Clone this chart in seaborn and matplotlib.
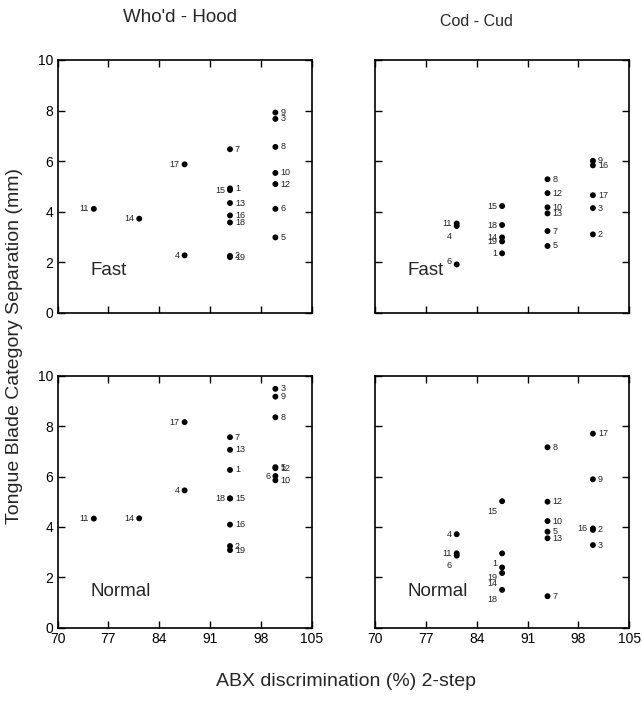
import pandas as pd
import matplotlib.pyplot as plt
import seaborn as sns

# x = 2-step ABX score (%), y = separation (mm), one point per speaker
hood_fast_ids = [11, 14, 17, 4, 7, 15, 1, 13, 16, 18, 2, 19, 9, 3, 8, 10, 12, 6, 5]
hood_fast_x = [75, 81.25, 87.5, 87.5, 93.75, 93.75, 93.75, 93.75, 93.75, 93.75, 93.75, 93.75,
               100, 100, 100, 100, 100, 100, 100]
hood_fast_y = [4.11, 3.72, 5.87, 2.27, 6.47, 4.85, 4.92, 4.34, 3.85, 3.57, 2.25, 2.20,
               7.92, 7.67, 6.56, 5.53, 5.09, 4.11, 2.98]

cud_fast_ids = [11, 4, 6, 15, 18, 14, 19, 1, 8, 12, 10, 13, 7, 5, 9, 16, 17, 3, 2]
cud_fast_x = [81.25, 81.25, 81.25, 87.5, 87.5, 87.5, 87.5, 87.5, 93.75, 93.75, 93.75, 93.75,
              93.75, 93.75, 100, 100, 100, 100, 100]
cud_fast_y = [3.53, 3.43, 1.91, 4.22, 3.47, 2.98, 2.82, 2.35, 5.28, 4.73, 4.17, 3.93,
              3.23, 2.64, 6.01, 5.83, 4.65, 4.14, 3.10]

hood_norm_ids = [11, 14, 17, 4, 7, 13, 1, 18, 15, 16, 2, 19, 3, 9, 8, 5, 12, 6, 10]
hood_norm_x = [75, 81.25, 87.5, 87.5, 93.75, 93.75, 93.75, 93.75, 93.75, 93.75, 93.75, 93.75,
               100, 100, 100, 100, 100, 100, 100]
hood_norm_y = [4.33, 4.34, 8.16, 5.45, 7.56, 7.06, 6.26, 5.13, 5.13, 4.09, 3.24, 3.08,
               9.48, 9.17, 8.35, 6.37, 6.33, 6.02, 5.85]

cud_norm_ids = [4, 11, 6, 15, 1, 19, 14, 18, 8, 12, 10, 5, 13, 7, 17, 9, 16, 2, 3]
cud_norm_x = [81.25, 81.25, 81.25, 87.5, 87.5, 87.5, 87.5, 87.5, 93.75, 93.75, 93.75, 93.75,
              93.75, 93.75, 100, 100, 100, 100, 100]
cud_norm_y = [3.71, 2.95, 2.86, 5.02, 2.95, 2.39, 2.17, 1.50, 7.16, 5.00, 4.23, 3.81,
              3.55, 1.25, 7.70, 5.89, 3.94, 3.88, 3.28]

x_ticks = [70, 77, 84, 91, 98, 105]
y_ticks = [0, 2, 4, 6, 8, 10]

sns.set_style("ticks")
plt.rcParams['font.family'] = ['Liberation Sans', 'DejaVu Sans']

panels = [
    # ids, x, y, condition, axes rect, labels on left, labels left+below, special offsets
    (hood_fast_ids, hood_fast_x, hood_fast_y, 'Fast', [0.0896, 0.5558, 0.3959, 0.3590],
     [11, 14, 17, 4, 15], [], {}),
    (cud_fast_ids, cud_fast_x, cud_fast_y, 'Fast', [0.5841, 0.5558, 0.3960, 0.3590],
     [11, 15, 18, 14, 19, 1], [4], {6: (-5, 3)}),
    (hood_norm_ids, hood_norm_x, hood_norm_y, 'Normal', [0.0896, 0.1084, 0.3959, 0.3579],
     [11, 14, 17, 4, 18, 6], [], {}),
    (cud_norm_ids, cud_norm_x, cud_norm_y, 'Normal', [0.5841, 0.1084, 0.3960, 0.3579],
     [4, 11, 16], [6, 15, 1, 19, 14, 18], {}),
]

fig = plt.figure(figsize=(6.42, 7.04), dpi=100)

for i, (ids, xs, ys, cond, rect, left, below, special) in enumerate(panels):
    ax = fig.add_axes(rect)
    df = pd.DataFrame({'id': ids, 'abx': xs, 'sep': ys})
    sns.scatterplot(data=df, x='abx', y='sep', ax=ax, color='black', s=18,
                    edgecolor='none', legend=False)
    for _, r in df.iterrows():
        k = int(r['id'])
        if k in special:
            dx, dy = special[k]
            ha = 'right'
        elif k in below:
            dx, dy, ha = -5, -10, 'right'
        elif k in left:
            dx, dy, ha = -5, 0, 'right'
        else:
            dx, dy, ha = 5, 0, 'left'
        ax.annotate(str(k), (r['abx'], r['sep']), xytext=(dx, dy),
                    textcoords='offset pixels', ha=ha, va='center',
                    fontsize=6.5, color='#222222')
    ax.text(74.5, 1.69 if cond == 'Fast' else 1.43, cond, fontsize=13.5,
            ha='left', va='center')
    ax.set_xlim(70, 105)
    ax.set_ylim(0, 10)
    ax.set_xticks(x_ticks)
    ax.set_yticks(y_ticks)
    ax.tick_params(direction='in', length=5, width=1, top=True, right=True,
                   labelsize=10, pad=3, colors='black')
    if i % 2 == 1:
        ax.set_yticklabels([])
    if i < 2:
        ax.set_xticklabels([])
    ax.set_xlabel('')
    ax.set_ylabel('')
    for sp in ax.spines.values():
        sp.set_linewidth(1.2)
        sp.set_color('black')

fig.text(180 / 642, 1 - 18 / 704, "Who'd - Hood", fontsize=13.5, ha='center', va='center')
fig.text(476 / 642, 1 - 21 / 704, "Cod - Cud", fontsize=11.5, ha='center', va='center')
fig.text(15 / 642, 1 - 346 / 704, 'Tongue Blade Category Separation (mm)', fontsize=14,
         rotation=90, ha='center', va='center')
fig.text(346 / 642, 1 - 682 / 704, 'ABX discrimination (%) 2-step', fontsize=14,
         ha='center', va='center')

fig.savefig('out.png', dpi=100)
